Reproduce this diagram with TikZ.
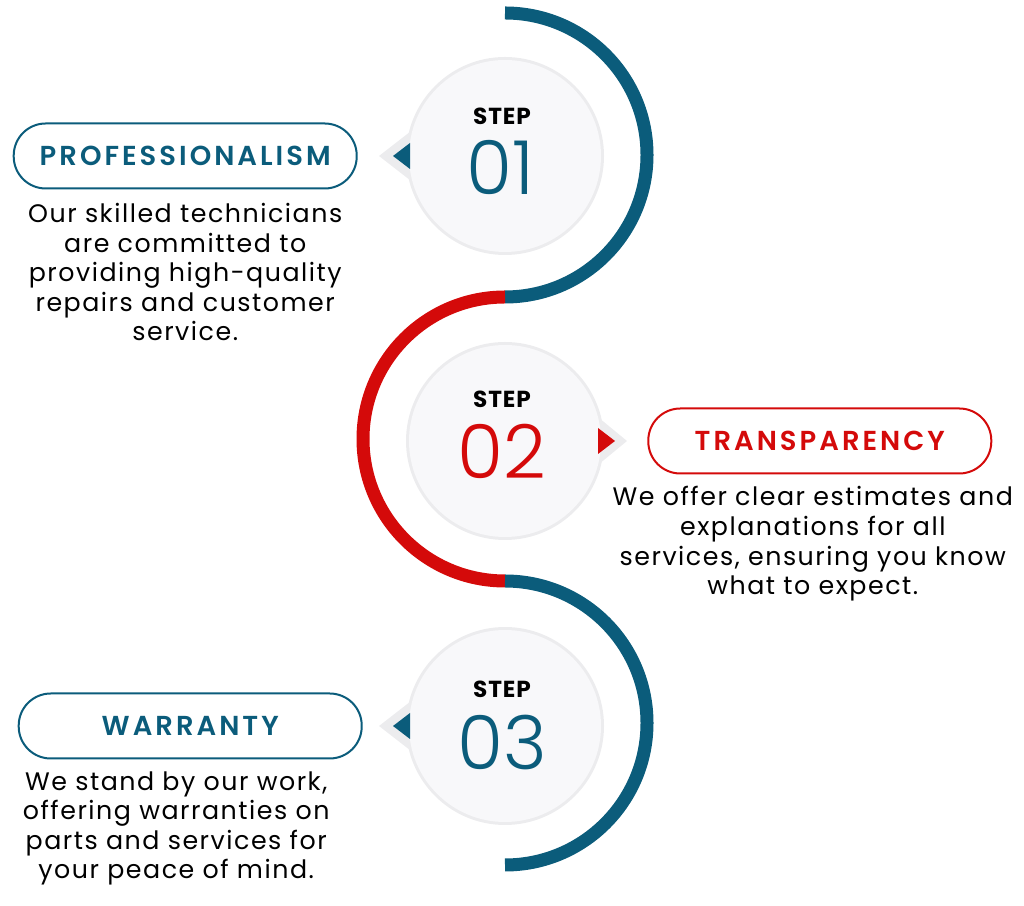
\documentclass[tikz,border=0pt]{standalone}
\usepackage{fontspec}
\setmainfont{Poppins}
\newfontfamily\numfont{Poppins}[UprightFont=* Light]
\newfontfamily\tagfont{Poppins}[UprightFont=* SemiBold, LetterSpace=11]
\newfontfamily\bodyfont{Poppins}[LetterSpace=6]
\usepackage{xcolor}
\usetikzlibrary{
positioning,
backgrounds
}
\definecolor{stepblue}{HTML}{0B5C7B}
\definecolor{stepred}{HTML}{D40A0A}
\definecolor{bubblefill}{HTML}{F8F8FA}
\definecolor{halo}{HTML}{ECECEE}
\tikzset{
  bubble/.style={shape=circle, fill=bubblefill, minimum size=48mm, inner sep=0pt},
  tagbox/.style={draw=#1, text=#1, line width=0.5mm, rounded corners=8mm,
    minimum width=85.75mm, minimum height=16.25mm, font=\tagfont\fontsize{19.5}{21}\selectfont},
  desc/.style={align=center, font=\bodyfont\fontsize{18}{21}\selectfont},
  ring/.style={line width=3.25mm, draw=#1},
  steplabel/.style={font=\bfseries\fontsize{16.5}{18}\selectfont\addfontfeatures{LetterSpace=4}},
  stepnum/.style={text=#1, font=\numfont\fontsize{53}{53}\selectfont}
}

\begin{document}
\begin{tikzpicture}[x=0.25mm, y=0.25mm]
    \useasboundingbox (0,0) rectangle (1024,906);
    \coordinate (j0) at (505,893);
    \coordinate (j1) at (505,609);
    \coordinate (j2) at (505,325);
    \draw[ring=stepblue] (j0) arc[start angle=90, end angle=-90, radius=142];
    \draw[ring=stepred] (j1) arc[start angle=90, end angle=270, radius=142];
    \draw[ring=stepblue] (j2) arc[start angle=90, end angle=-90, radius=142];
    \node [bubble] (s1) at (505,750) {};
    \node [bubble] (s2) at (505,465) {};
    \node [bubble] (s3) at (505,180) {};
    \begin{scope}[on background layer]
      \fill[halo] (s1) circle[radius=99];
      \fill[halo] (s2) circle[radius=99];
      \fill[halo] (s3) circle[radius=99];
      \fill[halo] ([shift={(-126,0)}] s1.center) -- ([shift={(-90,28)}] s1.center) -- ([shift={(-90,-28)}] s1.center) -- cycle;
      \fill[halo] ([shift={(122,0)}] s2.center) -- ([shift={(88,28)}] s2.center) -- ([shift={(88,-28)}] s2.center) -- cycle;
      \fill[halo] ([shift={(-126,0)}] s3.center) -- ([shift={(-90,28)}] s3.center) -- ([shift={(-90,-28)}] s3.center) -- cycle;
    \end{scope}
    \fill[stepblue] ([shift={(-112,0)}] s1.center) -- ([shift={(-95,13)}] s1.center) -- ([shift={(-95,-13)}] s1.center) -- cycle;
    \fill[stepred] ([shift={(110,0)}] s2.center) -- ([shift={(93,13)}] s2.center) -- ([shift={(93,-13)}] s2.center) -- cycle;
    \fill[stepblue] ([shift={(-112,0)}] s3.center) -- ([shift={(-95,13)}] s3.center) -- ([shift={(-95,-13)}] s3.center) -- cycle;
    \node [steplabel] at ([shift={(-3,40)}] s1.center) {STEP};
    \node [stepnum=stepblue] at ([shift={(-5,-12)}] s1.center) {01};
    \node [steplabel] at ([shift={(-3,42)}] s2.center) {STEP};
    \node [stepnum=stepred] at ([shift={(-3,-10)}] s2.center) {02};
    \node [steplabel] at ([shift={(-3,37)}] s3.center) {STEP};
    \node [stepnum=stepblue] at ([shift={(-3,-16)}] s3.center) {03};
    \node [tagbox=stepblue, left=12.75mm of s1] (prof) {PROFESSIONALISM};
    \node [tagbox=stepred, right=11.5mm of s2] (transp) {TRANSPARENCY};
    \node [tagbox=stepblue, left=11.5mm of s3] (warr) {WARRANTY};
    \node [desc, below=2.2mm of prof] (d1) {Our skilled technicians\\are committed to\\providing high-quality\\repairs and customer\\service.};
    \node [desc, below=1.8mm of transp, xshift=-1.75mm] (d2) {We offer clear estimates and\\explanations for all\\services, ensuring you know\\what to expect.};
    \node [desc, below=1.8mm of warr, xshift=-3.5mm] (d3) {We stand by our work,\\offering warranties on\\parts and services for\\your peace of mind.};
  \end{tikzpicture}
\end{document}
